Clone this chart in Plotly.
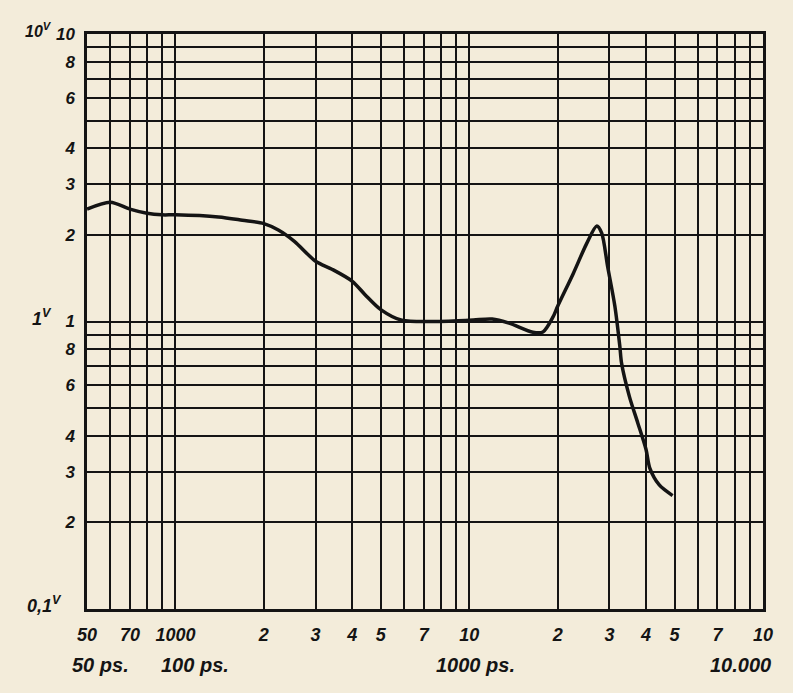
import plotly.graph_objects as go

# ---- data (frequency in periods/s, voltage in V) ----
freq = [50, 60, 70, 80, 90, 100, 140, 169, 200, 224, 254, 300, 341, 400, 442, 500,
        590, 1000, 1197, 1367, 1647, 1782, 1931, 2000, 2261, 2512, 2718, 2825, 2960,
        3132, 3257, 3300, 3510, 3750, 4000, 4118, 4435, 4923]
volts = [2.46, 2.60, 2.46, 2.38, 2.35, 2.35, 2.31, 2.25, 2.19, 2.08, 1.90, 1.62, 1.52, 1.38, 1.24, 1.10,
         1.01, 1.01, 1.02, 0.987, 0.918, 0.92, 1.04, 1.13, 1.47, 1.87, 2.15, 2.03, 1.55,
         1.13, 0.818, 0.717, 0.548, 0.443, 0.358, 0.309, 0.270, 0.248]

# labelled x ticks and their texts
x_ticks = [50, 70, 100, 200, 300, 400, 500, 700, 1000, 2000, 3000, 4000, 5000, 7000, 10000]
x_text = ["50", "70", "1000", "2", "3", "4", "5", "7", "10", "2", "3", "4", "5", "7", "10"]
# unlabelled x grid lines
x_minor = [60, 80, 90, 600, 800, 900, 6000, 8000, 9000]

# labelled y ticks and their texts
y_ticks = [0.2, 0.3, 0.4, 0.6, 0.8, 1, 2, 3, 4, 6, 8, 10]
y_text = ["2", "3", "4", "6", "8", "1", "2", "3", "4", "6", "8", "10"]
y_minor = [0.5, 0.7, 0.9, 5, 7, 9]

unit_labels = ["50 ps.", "100 ps.", "1000 ps.", "10.000"]
unit_pos = [100, 195, 475, 740]  # pixel centres on the page

PAPER = "#f3ecda"
INK = "#141414"
FONT = dict(family="Liberation Sans", color=INK, style="italic", weight="bold")

W, H = 793, 693
ML, MR, MT, MB = 87, 30, 34, 84

fig = go.Figure()
fig.add_trace(go.Scatter(
    x=freq, y=volts, mode="lines",
    line=dict(color=INK, width=3.5, shape="spline", smoothing=0.8),
    hoverinfo="skip", showlegend=False,
))

fig.update_layout(
    width=W, height=H,
    margin=dict(l=ML, r=MR, t=MT, b=MB),
    paper_bgcolor=PAPER, plot_bgcolor=PAPER,
    showlegend=False,
)

grid = dict(showgrid=True, gridcolor=INK, gridwidth=2)
fig.update_xaxes(
    type="log", range=[1.69897, 4],
    tickmode="array", tickvals=x_ticks, ticktext=x_text, tickangle=0,
    minor=dict(tickmode="array", tickvals=x_minor, ticks="", **grid),
    showline=True, linecolor=INK, linewidth=2.6, mirror=True,
    ticks="", ticklabelstandoff=8,
    tickfont=dict(size=18, **FONT),
    zeroline=False, **grid,
)
fig.update_yaxes(
    type="log", range=[-1, 1],
    tickmode="array", tickvals=y_ticks, ticktext=y_text,
    minor=dict(tickmode="array", tickvals=y_minor, ticks="", **grid),
    showline=True, linecolor=INK, linewidth=2.6, mirror=True,
    ticks="", ticklabelstandoff=6,
    tickfont=dict(size=17, **FONT),
    zeroline=False, **grid,
)


def add_text(txt, xp, yp, size, anchor="center"):
    fig.add_annotation(
        x=(xp - ML) / (W - ML - MR), y=1 - (yp - MT) / (H - MT - MB),
        xref="paper", yref="paper", text=txt, showarrow=False,
        xanchor=anchor, yanchor="middle",
        font=dict(size=size, **FONT),
    )


add_text("10<sup>V</sup>", 54, 30, 16, anchor="right")
add_text("1<sup>V</sup>", 54, 318, 18, anchor="right")
add_text("0,1<sup>V</sup>", 64, 604, 18, anchor="right")

for t, p in zip(unit_labels, unit_pos):
    add_text(t, p, 665, 20)

fig.write_html(
    "out.html",
    config={"displayModeBar": False, "staticPlot": True},
    post_script="document.body.style.margin='0';document.body.style.background='%s';" % PAPER,
)
